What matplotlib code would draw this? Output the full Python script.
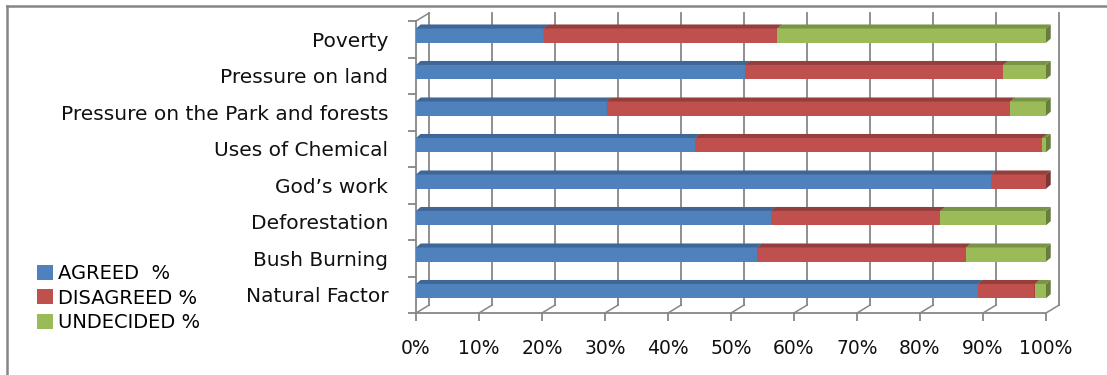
import numpy as np
import matplotlib.pyplot as plt
from matplotlib.patches import Polygon, Patch
from matplotlib.lines import Line2D

# data, listed top to bottom as in the chart
categories = ["Poverty", "Pressure on land", "Pressure on the Park and forests",
              "Uses of Chemical", "God\u2019s work", "Deforestation",
              "Bush Burning", "Natural Factor"]
agreed = [20.3, 52.3, 30.3, 44.3, 91.3, 56.4, 54.2, 89.2]
disagreed = [37.0, 40.9, 64.0, 55.1, 8.7, 26.8, 33.1, 9.0]
undecided = [42.7, 6.8, 5.7, 0.6, 0.0, 16.8, 12.7, 1.8]
series_names = ["AGREED  %", "DISAGREED %", "UNDECIDED %"]
xticks = np.arange(0, 101, 10)

front = ["#4F81BD", "#C0504D", "#9BBB59"]
topc = ["#3E6696", "#953F3D", "#7A9446"]
sidec = ["#34567F", "#7E3533", "#677D3B"]
grid_c = "#868686"

plt.rcParams['font.family'] = ['DejaVu Sans']
fs = 13.5

fig = plt.figure(figsize=(11.07, 3.75), dpi=100)
ax = fig.add_axes([416 / 1107, 62 / 375, 630 / 1107, 292 / 375])

n = len(categories)
ypos = np.arange(n)[::-1]          # Poverty at the top
bar_h = 0.39
y_shift = 0.1
ddx, ddy = 0.75, 0.11            # bar depth
wdx, wdy = 2.1, 0.22             # wall depth

# back wall gridlines
for xv in xticks:
    ax.plot([xv + wdx, xv + wdx], [-0.5 + wdy, n - 0.5 + wdy], color=grid_c,
            lw=1.3, zorder=1, clip_on=False)
    ax.plot([xv, xv + wdx], [-0.5, -0.5 + wdy], color=grid_c, lw=1.1,
            zorder=1, clip_on=False)
ax.plot([0, wdx], [n - 0.5, n - 0.5 + wdy], color=grid_c, lw=1.1, zorder=1,
        clip_on=False)

series = [agreed, disagreed, undecided]
left = np.zeros(n)
for k, vals in enumerate(series):
    vals = np.array(vals)
    bars = ax.barh(ypos + y_shift, vals, left=left, height=bar_h,
                   color=front[k], zorder=3 + k * 3, linewidth=0)
    for b in bars:
        if b.get_width() <= 0:
            continue
        x0, y0 = b.get_x(), b.get_y()
        x1, y1 = x0 + b.get_width(), y0 + b.get_height()
        ax.add_patch(Polygon([(x0, y1), (x0 + ddx, y1 + ddy), (x1 + ddx, y1 + ddy), (x1, y1)],
                             closed=True, fc=topc[k], ec='none', zorder=4 + k * 3,
                             clip_on=False))
        ax.add_patch(Polygon([(x1, y0), (x1 + ddx, y0 + ddy), (x1 + ddx, y1 + ddy), (x1, y1)],
                             closed=True, fc=sidec[k], ec='none', zorder=4 + k * 3,
                             clip_on=False))
    left = left + vals

ax.set_xlim(0, 100)
ax.set_ylim(-0.5, n - 0.5)
ax.set_xticks(xticks)
ax.set_xticklabels([f"{v}%" for v in xticks], fontsize=fs, color="#111111")
ax.set_yticks(ypos)
ax.set_yticklabels(categories, fontsize=14.5, color="#111111")
ax.set_yticks(np.arange(n + 1) - 0.5, minor=True)
ax.tick_params(axis='y', which='major', length=0, pad=20)
ax.tick_params(axis='y', which='minor', length=6, width=1.3, color=grid_c)
ax.tick_params(axis='x', length=6, width=1.3, color=grid_c, pad=13)
for s in ['top', 'right']:
    ax.spines[s].set_visible(False)
for s in ['left', 'bottom']:
    ax.spines[s].set_color(grid_c)
    ax.spines[s].set_linewidth(1.3)
ax.patch.set_visible(False)

handles = [Patch(facecolor=c, edgecolor='none') for c in front]
fig.legend(handles, series_names, loc='center left', bbox_to_anchor=(27 / 1107, 1 - 298 / 375),
           frameon=False, fontsize=14, handlelength=0.82, handleheight=0.82,
           handletextpad=0.3, labelspacing=0.28, borderpad=0)

# outer frame lines
fig.add_artist(Line2D([7 / 1107, 7 / 1107], [0, 1 - 6 / 375], color=grid_c, lw=1.8,
                      transform=fig.transFigure))
fig.add_artist(Line2D([7 / 1107, 1], [1 - 6 / 375, 1 - 6 / 375], color=grid_c, lw=1.8,
                      transform=fig.transFigure))

fig.savefig("out.png", dpi=100)
